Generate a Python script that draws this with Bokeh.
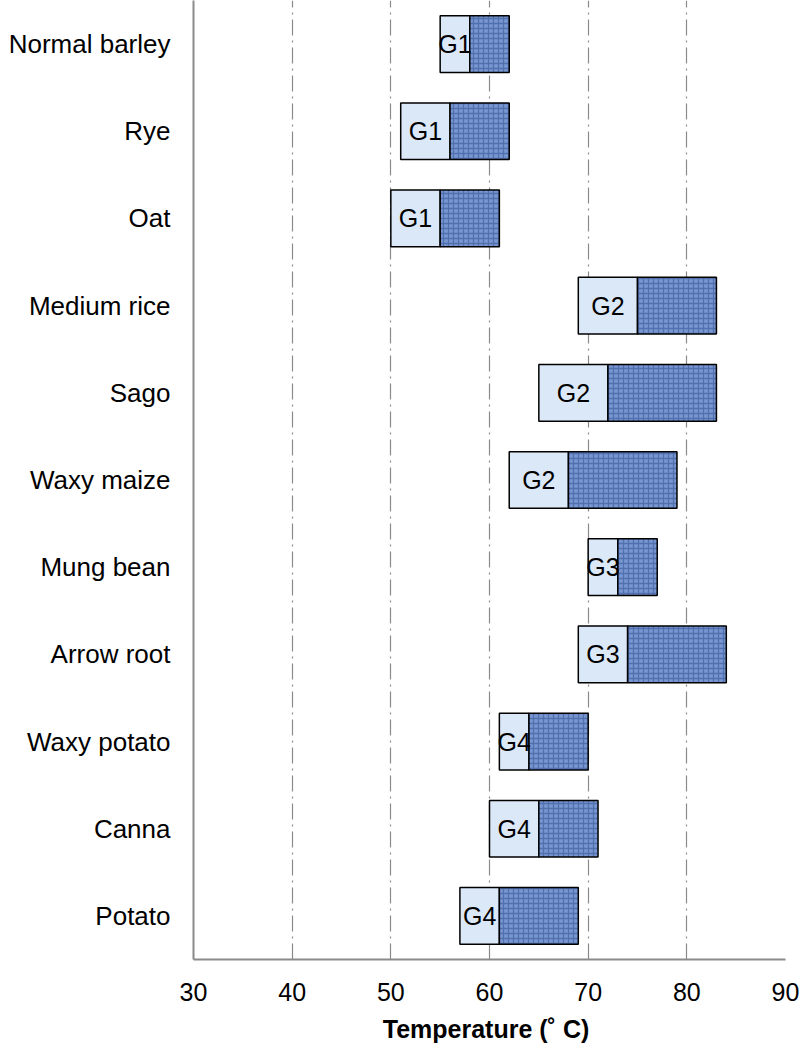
from bokeh.plotting import figure
from bokeh.models import ColumnDataSource, FactorRange, Range1d, FixedTicker
from bokeh.core.properties import value
from bokeh.embed import file_html
from bokeh.resources import INLINE

categories = ["Normal barley", "Rye", "Oat", "Medium rice", "Sago", "Waxy maize",
              "Mung bean", "Arrow root", "Waxy potato", "Canna", "Potato"]
onset = [55, 51, 50, 69, 65, 62, 70, 69, 61, 60, 57]
peak = [58, 56, 55, 75, 72, 68, 73, 74, 64, 65, 61]
conclusion = [62, 62, 61, 83, 83, 79, 77, 84, 70, 71, 69]
groups = ["G1", "G1", "G1", "G2", "G2", "G2", "G3", "G3", "G4", "G4", "G4"]
x_ticks = [30, 40, 50, 60, 70, 80, 90]

FONT = "Liberation Sans"

src = ColumnDataSource(dict(
    cat=categories, onset=onset, peak=peak, conclusion=conclusion, grp=groups,
    lx=[(a + b) / 2 for a, b in zip(onset, peak)],
))

p = figure(width=800, height=1046,
           y_range=FactorRange(factors=categories[::-1]),
           x_range=Range1d(30, 90),
           output_backend="svg", toolbar_location=None,
           min_border_left=193, min_border_right=15,
           min_border_top=0, min_border_bottom=87)

p.outline_line_color = None
p.background_fill_color = "white"

# bars
p.hbar(y="cat", left="onset", right="peak", height=0.65, source=src,
       fill_color="#dbe8f8", line_color="black", line_width=1.5)
p.hbar(y="cat", left="peak", right="conclusion", height=0.65, source=src,
       fill_color="#7896d0", hatch_pattern="cross", hatch_color="#2a4a8c",
       hatch_alpha=0.5, hatch_scale=5, hatch_weight=1.3,
       line_color="black", line_width=1.5)

p.text(x="lx", y="cat", text="grp", source=src,
       text_font=value(FONT), text_font_size="25px", text_color="black",
       text_align="center", text_baseline="middle")

# grid
p.ygrid.grid_line_color = None
p.xgrid.ticker = FixedTicker(ticks=x_ticks)
p.xgrid.grid_line_color = "#8a8a8a"
p.xgrid.grid_line_width = 1.2
p.xgrid.grid_line_dash = "16 5 2 5"

# x axis
p.xaxis.ticker = FixedTicker(ticks=x_ticks)
p.xaxis.axis_line_color = "#8a8a8a"
p.xaxis.axis_line_width = 2
p.xaxis.major_tick_out = 0
p.xaxis.major_tick_in = 0
p.xaxis.minor_tick_line_color = None
p.xaxis.major_label_text_font = FONT
p.xaxis.major_label_text_font_size = "25px"
p.xaxis.major_label_text_color = "black"
p.xaxis.major_label_standoff = 23
p.xaxis.axis_label = "Temperature (˚  C)"
p.xaxis.axis_label_text_font = FONT
p.xaxis.axis_label_text_font_size = "25px"
p.xaxis.axis_label_text_font_style = "bold"
p.xaxis.axis_label_text_color = "black"
p.xaxis.axis_label_standoff = 11

# y axis
p.yaxis.axis_line_color = "#8a8a8a"
p.yaxis.axis_line_width = 2
p.yaxis.major_tick_out = 0
p.yaxis.major_tick_in = 0
p.yaxis.minor_tick_line_color = None
p.yaxis.major_label_text_font = FONT
p.yaxis.major_label_text_font_size = "26px"
p.yaxis.major_label_text_color = "black"
p.yaxis.major_label_standoff = 23

open("out.html", "w").write(file_html(p, INLINE))
